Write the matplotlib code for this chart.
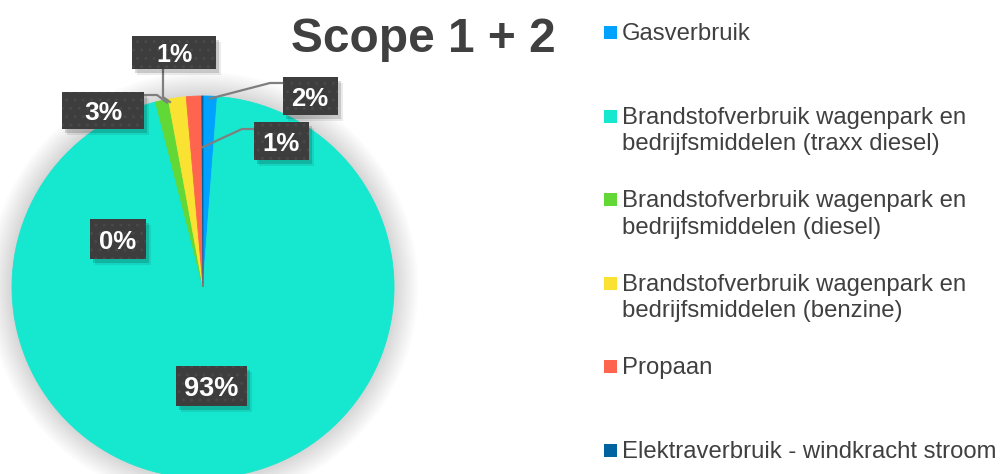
import numpy as np
import matplotlib
matplotlib.use("Agg")
import matplotlib.pyplot as plt
from matplotlib.patches import Rectangle, Circle

plt.rcParams['font.family'] = ['Liberation Sans', 'DejaVu Sans']

# data
categories = [
    "Gasverbruik",
    "Brandstofverbruik wagenpark en\nbedrijfsmiddelen (traxx diesel)",
    "Brandstofverbruik wagenpark en\nbedrijfsmiddelen (diesel)",
    "Brandstofverbruik wagenpark en\nbedrijfsmiddelen (benzine)",
    "Propaan",
    "Elektraverbruik - windkracht stroom",
]
shares = [1.2, 94.8, 1.1, 1.5, 1.3, 0.1]
pct_labels = ["2%", "93%", "3%", "1%", "1%", "0%"]
colors = ["#00A2FF", "#16E7CF", "#61D836", "#FAE232", "#FF644E", "#00629E"]

W, H = 1000, 474
TXT = "#404040"

fig = plt.figure(figsize=(W / 100, H / 100), dpi=100)
ax = fig.add_axes([0, 0, 1, 1])

cx, cy, R = 203, 187, 191

# soft glow behind the pie
for k in range(14):
    ax.add_patch(Circle((cx, cy), R + 1 + k * 1.8, color='black', alpha=0.011,
                        lw=0, zorder=0))

wedges, _ = ax.pie(shares, colors=colors, startangle=90, counterclock=False,
                   center=(cx, cy), radius=R, wedgeprops=dict(linewidth=0.6))
for w in wedges:
    w.set_edgecolor(w.get_facecolor())
    w.set_zorder(2)

ax.set_xlim(0, W)
ax.set_ylim(0, H)
ax.axis('off')


def wedge_point(w, frac_r, where=0.5):
    ang = np.deg2rad(w.theta1 + where * (w.theta2 - w.theta1))
    return cx + frac_r * R * np.cos(ang), cy + frac_r * R * np.sin(ang)


# label boxes: centre, size, font size, leader (where on wedge, radius, elbow points)
box_pos = [(310, 378), (211, 88), (103, 364), (174, 422), (281, 333), (118, 235)]
box_size = [(55, 38), (71, 40), (82, 37), (84, 33), (55, 38), (56, 40)]
box_font = [18.5, 19.5, 19, 18, 18.5, 18.5]
leaders = [
    (0.6, 0.985, [(270, 391), (290, 391)]),
    None,
    (0.1, 0.98, [(157, 379), (140, 379)]),
    (0.9, 0.98, [(163, 377), (163, 410)]),
    (0.03, 0.73, [(242, 345), (262, 345)]),
    None,
]

for i, w in enumerate(wedges):
    if leaders[i] is not None:
        where, fr, elbows = leaders[i]
        px, py = wedge_point(w, fr, where)
        xs = [px] + [p[0] for p in elbows]
        ys = [py] + [p[1] for p in elbows]
        ax.plot(xs, ys, color='#7f7f7f', lw=1.6, zorder=3, solid_capstyle='butt')
    bx, by = box_pos[i]
    bw, bh = box_size[i]
    for off, a in [(5, 0.08), (3, 0.15)]:
        ax.add_patch(Rectangle((bx - bw / 2 + off, by - bh / 2 - off - 1), bw, bh,
                               color='black', alpha=a, lw=0, zorder=4))
    ax.add_patch(Rectangle((bx - bw / 2, by - bh / 2), bw, bh,
                           facecolor='#3d3d3d', lw=0, zorder=5))
    ax.add_patch(Rectangle((bx - bw / 2, by - bh / 2), bw, bh, fill=False,
                           hatch='..', edgecolor='#484848', lw=0, zorder=5.5))
    ax.text(bx, by, pct_labels[i], ha='center', va='center_baseline',
            fontsize=box_font[i], fontweight='bold', color='white', zorder=6)

# title
ax.text(423, H - 52, "Scope 1 + 2", ha='center', va='baseline', fontsize=34.5,
        fontweight='bold', color=TXT)

# legend
for i, (cat, col) in enumerate(zip(categories, colors)):
    base = H - (40 + i * 83.6)
    ax.add_patch(Rectangle((604, base + 1), 13, 13, color=col, lw=0))
    for j, line in enumerate(cat.split("\n")):
        ax.text(622, base - j * 26.5, line, ha='left', va='baseline',
                fontsize=17.2, color=TXT)

fig.savefig("out.png", dpi=100)
